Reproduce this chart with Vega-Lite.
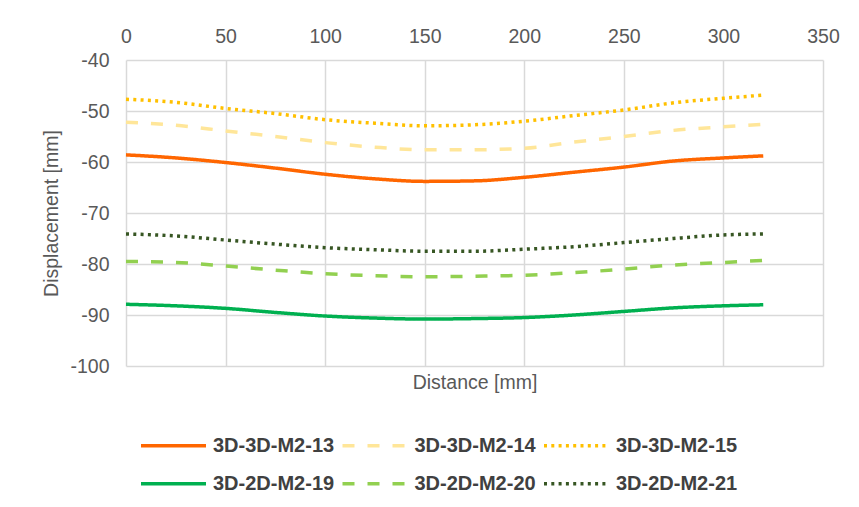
{
  "$schema": "https://vega.github.io/schema/vega-lite/v6.json",
  "width": 697,
  "height": 306,
  "autosize": {"type": "none"},
  "padding": {"left": 126, "top": 60, "right": 36, "bottom": 141},
  "background": "white",
  "config": {
    "view": {"stroke": null},
    "font": "Liberation Sans",
    "legend": {
      "title": null,
      "orient": "none",
      "legendX": 13,
      "direction": "horizontal",
      "columns": 3,
      "symbolType": "stroke",
      "symbolSize": 4225,
      "symbolStrokeWidth": 3.5,
      "labelFontSize": 20,
      "labelFontWeight": "bold",
      "labelColor": "#404040",
      "labelOffset": 5,
      "labelLimit": 300,
      "columnPadding": 0.5
    }
  },
  "data": {
    "values": [
      {"series": "3D-3D-M2-13", "distance": 0, "displacement": -58.6},
      {"series": "3D-3D-M2-13", "distance": 25, "displacement": -59.2},
      {"series": "3D-3D-M2-13", "distance": 50, "displacement": -60.1},
      {"series": "3D-3D-M2-13", "distance": 75, "displacement": -61.2},
      {"series": "3D-3D-M2-13", "distance": 100, "displacement": -62.4},
      {"series": "3D-3D-M2-13", "distance": 125, "displacement": -63.3},
      {"series": "3D-3D-M2-13", "distance": 150, "displacement": -63.8},
      {"series": "3D-3D-M2-13", "distance": 175, "displacement": -63.7},
      {"series": "3D-3D-M2-13", "distance": 200, "displacement": -63.0},
      {"series": "3D-3D-M2-13", "distance": 225, "displacement": -62.0},
      {"series": "3D-3D-M2-13", "distance": 250, "displacement": -61.0},
      {"series": "3D-3D-M2-13", "distance": 275, "displacement": -59.8},
      {"series": "3D-3D-M2-13", "distance": 300, "displacement": -59.2},
      {"series": "3D-3D-M2-13", "distance": 320, "displacement": -58.8},

      {"series": "3D-3D-M2-14", "distance": 0, "displacement": -52.2},
      {"series": "3D-3D-M2-14", "distance": 25, "displacement": -52.8},
      {"series": "3D-3D-M2-14", "distance": 50, "displacement": -53.9},
      {"series": "3D-3D-M2-14", "distance": 75, "displacement": -55.0},
      {"series": "3D-3D-M2-14", "distance": 100, "displacement": -56.2},
      {"series": "3D-3D-M2-14", "distance": 125, "displacement": -57.1},
      {"series": "3D-3D-M2-14", "distance": 150, "displacement": -57.6},
      {"series": "3D-3D-M2-14", "distance": 175, "displacement": -57.6},
      {"series": "3D-3D-M2-14", "distance": 200, "displacement": -57.3},
      {"series": "3D-3D-M2-14", "distance": 225, "displacement": -56.1},
      {"series": "3D-3D-M2-14", "distance": 250, "displacement": -55.0},
      {"series": "3D-3D-M2-14", "distance": 275, "displacement": -53.8},
      {"series": "3D-3D-M2-14", "distance": 300, "displacement": -53.1},
      {"series": "3D-3D-M2-14", "distance": 320, "displacement": -52.6},

      {"series": "3D-3D-M2-15", "distance": 0, "displacement": -47.7},
      {"series": "3D-3D-M2-15", "distance": 25, "displacement": -48.3},
      {"series": "3D-3D-M2-15", "distance": 50, "displacement": -49.5},
      {"series": "3D-3D-M2-15", "distance": 75, "displacement": -50.5},
      {"series": "3D-3D-M2-15", "distance": 100, "displacement": -51.7},
      {"series": "3D-3D-M2-15", "distance": 125, "displacement": -52.4},
      {"series": "3D-3D-M2-15", "distance": 150, "displacement": -52.9},
      {"series": "3D-3D-M2-15", "distance": 175, "displacement": -52.7},
      {"series": "3D-3D-M2-15", "distance": 200, "displacement": -52.0},
      {"series": "3D-3D-M2-15", "distance": 225, "displacement": -50.9},
      {"series": "3D-3D-M2-15", "distance": 250, "displacement": -49.8},
      {"series": "3D-3D-M2-15", "distance": 275, "displacement": -48.4},
      {"series": "3D-3D-M2-15", "distance": 300, "displacement": -47.5},
      {"series": "3D-3D-M2-15", "distance": 320, "displacement": -46.9},

      {"series": "3D-2D-M2-19", "distance": 0, "displacement": -87.9},
      {"series": "3D-2D-M2-19", "distance": 25, "displacement": -88.2},
      {"series": "3D-2D-M2-19", "distance": 50, "displacement": -88.7},
      {"series": "3D-2D-M2-19", "distance": 75, "displacement": -89.5},
      {"series": "3D-2D-M2-19", "distance": 100, "displacement": -90.2},
      {"series": "3D-2D-M2-19", "distance": 125, "displacement": -90.6},
      {"series": "3D-2D-M2-19", "distance": 150, "displacement": -90.8},
      {"series": "3D-2D-M2-19", "distance": 175, "displacement": -90.7},
      {"series": "3D-2D-M2-19", "distance": 200, "displacement": -90.5},
      {"series": "3D-2D-M2-19", "distance": 225, "displacement": -90.0},
      {"series": "3D-2D-M2-19", "distance": 250, "displacement": -89.3},
      {"series": "3D-2D-M2-19", "distance": 275, "displacement": -88.6},
      {"series": "3D-2D-M2-19", "distance": 300, "displacement": -88.2},
      {"series": "3D-2D-M2-19", "distance": 320, "displacement": -88.0},

      {"series": "3D-2D-M2-20", "distance": 0, "displacement": -79.5},
      {"series": "3D-2D-M2-20", "distance": 25, "displacement": -79.7},
      {"series": "3D-2D-M2-20", "distance": 50, "displacement": -80.4},
      {"series": "3D-2D-M2-20", "distance": 75, "displacement": -81.2},
      {"series": "3D-2D-M2-20", "distance": 100, "displacement": -81.9},
      {"series": "3D-2D-M2-20", "distance": 125, "displacement": -82.3},
      {"series": "3D-2D-M2-20", "distance": 150, "displacement": -82.5},
      {"series": "3D-2D-M2-20", "distance": 175, "displacement": -82.4},
      {"series": "3D-2D-M2-20", "distance": 200, "displacement": -82.2},
      {"series": "3D-2D-M2-20", "distance": 225, "displacement": -81.7},
      {"series": "3D-2D-M2-20", "distance": 250, "displacement": -81.0},
      {"series": "3D-2D-M2-20", "distance": 275, "displacement": -80.2},
      {"series": "3D-2D-M2-20", "distance": 300, "displacement": -79.7},
      {"series": "3D-2D-M2-20", "distance": 320, "displacement": -79.3},

      {"series": "3D-2D-M2-21", "distance": 0, "displacement": -74.1},
      {"series": "3D-2D-M2-21", "distance": 25, "displacement": -74.5},
      {"series": "3D-2D-M2-21", "distance": 50, "displacement": -75.3},
      {"series": "3D-2D-M2-21", "distance": 75, "displacement": -76.1},
      {"series": "3D-2D-M2-21", "distance": 100, "displacement": -76.8},
      {"series": "3D-2D-M2-21", "distance": 125, "displacement": -77.2},
      {"series": "3D-2D-M2-21", "distance": 150, "displacement": -77.5},
      {"series": "3D-2D-M2-21", "distance": 175, "displacement": -77.5},
      {"series": "3D-2D-M2-21", "distance": 200, "displacement": -77.1},
      {"series": "3D-2D-M2-21", "distance": 225, "displacement": -76.6},
      {"series": "3D-2D-M2-21", "distance": 250, "displacement": -75.8},
      {"series": "3D-2D-M2-21", "distance": 275, "displacement": -75.0},
      {"series": "3D-2D-M2-21", "distance": 300, "displacement": -74.3},
      {"series": "3D-2D-M2-21", "distance": 320, "displacement": -74.1}
    ]
  },
  "encoding": {
    "y": {
      "field": "displacement",
      "type": "quantitative",
      "scale": {"domain": [-100, -40], "nice": false, "zero": false},
      "axis": {
        "title": "Displacement [mm]",
        "values": [-100, -90, -80, -70, -60, -50, -40],
        "labelExpr": "toString(datum.value)",
        "grid": true,
        "gridColor": "#d9d9d9",
        "gridWidth": 1.5,
        "domain": false,
        "ticks": false,
        "labelFlush": false,
        "labelFontSize": 19.5,
        "labelColor": "#595959",
        "labelPadding": 17,
        "titleFontSize": 19.5,
        "titleFontWeight": "normal",
        "titleColor": "#595959",
        "titlePadding": 8
      }
    }
  },
  "layer": [
    {
      "transform": [{"filter": "indexof(datum.series, '3D-3D') === 0"}],
      "mark": {"type": "line", "interpolate": "monotone", "strokeWidth": 3.5},
      "encoding": {
        "x": {
          "field": "distance",
          "type": "quantitative",
          "scale": {"domain": [0, 350], "nice": false, "zero": false},
          "axis": {
            "orient": "top",
            "title": null,
            "values": [0, 50, 100, 150, 200, 250, 300, 350],
            "grid": true,
            "gridColor": "#d9d9d9",
            "gridWidth": 1.5,
            "domain": false,
            "ticks": false,
            "labelFlush": false,
            "labelFontSize": 19.5,
            "labelColor": "#595959",
            "labelPadding": 14
          }
        },
        "color": {
          "field": "series",
          "type": "nominal",
          "scale": {
            "domain": ["3D-3D-M2-13", "3D-3D-M2-14", "3D-3D-M2-15"],
            "range": ["#ff6600", "#ffe699", "#ffc000"]
          },
          "legend": {"legendY": 351}
        },
        "strokeDash": {
          "field": "series",
          "type": "nominal",
          "scale": {
            "domain": ["3D-3D-M2-13", "3D-3D-M2-14", "3D-3D-M2-15"],
            "range": [[1, 0], [12, 13], [3, 4.3]]
          },
          "legend": {"legendY": 351}
        }
      }
    },
    {
      "transform": [{"filter": "indexof(datum.series, '3D-2D') === 0"}],
      "mark": {"type": "line", "interpolate": "monotone", "strokeWidth": 3.5},
      "encoding": {
        "x": {
          "field": "distance",
          "type": "quantitative",
          "axis": {
            "orient": "bottom",
            "title": "Distance [mm]",
            "grid": false,
            "labels": false,
            "domain": false,
            "ticks": false,
            "titleFontSize": 19.5,
            "titleFontWeight": "normal",
            "titleColor": "#595959",
            "titlePadding": 7.5
          }
        },
        "color": {
          "field": "series",
          "type": "nominal",
          "scale": {
            "domain": ["3D-2D-M2-19", "3D-2D-M2-20", "3D-2D-M2-21"],
            "range": ["#00b050", "#92d050", "#375623"]
          },
          "legend": {"legendY": 389}
        },
        "strokeDash": {
          "field": "series",
          "type": "nominal",
          "scale": {
            "domain": ["3D-2D-M2-19", "3D-2D-M2-20", "3D-2D-M2-21"],
            "range": [[1, 0], [12, 13], [3, 4.3]]
          },
          "legend": {"legendY": 389}
        }
      }
    }
  ],
  "resolve": {
    "axis": {"x": "independent"},
    "scale": {"color": "independent", "strokeDash": "independent"}
  }
}
